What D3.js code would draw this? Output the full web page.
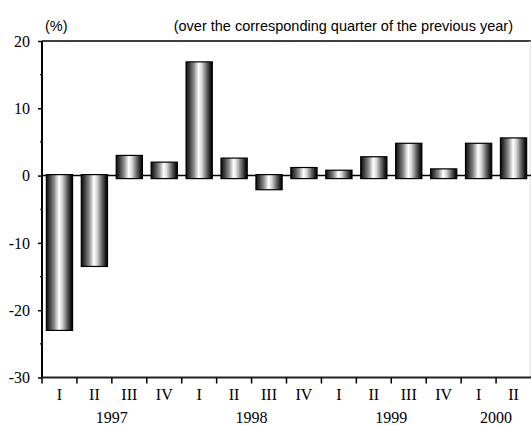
<!DOCTYPE html>
<html>
<head>
<meta charset="utf-8">
<script src="https://cdn.jsdelivr.net/npm/d3@7"></script>
<style>
  body { margin: 0; background: #fff; overflow: hidden; }
  svg { display: block; }
</style>
</head>
<body>
<svg id="chart" width="531" height="425"></svg>
<script>
var quarters = ["I", "II", "III", "IV", "I", "II", "III", "IV", "I", "II", "III", "IV", "I", "II"];
var years = ["1997", "1998", "1999", "2000"];
var quartersPerYear = [4, 4, 4, 2];
var values = [-23.0, -13.5, 3.0, 2.0, 16.9, 2.6, -2.1, 1.2, 0.8, 2.8, 4.8, 1.0, 4.8, 5.6];
var yTicks = [-30, -20, -10, 0, 10, 20];

var svg = d3.select("#chart"),
    plotLeft = 42,
    plotRight = 531,
    plotTop = 41,
    plotBottom = 377.5;

var x = d3.scaleBand()
    .domain(d3.range(values.length))
    .range([plotLeft, plotRight])
    .paddingInner(0.25)
    .paddingOuter(0.125);

var y = d3.scaleLinear()
    .domain([-30, 20])
    .range([plotBottom, plotTop]);

// cylinder shading for the bars
var grad = svg.append("defs").append("linearGradient")
    .attr("id", "cyl")
    .attr("x1", "0%").attr("x2", "100%")
    .attr("y1", "0%").attr("y2", "0%");
[[0, "#0a0a0a"], [0.12, "#3a3a3a"], [0.3, "#8c8c8c"], [0.48, "#ffffff"], [0.6, "#d8d8d8"],
 [0.78, "#6a6a6a"], [0.92, "#1e1e1e"], [1, "#000"]].forEach(function(s) {
  grad.append("stop").attr("offset", s[0]).attr("stop-color", s[1]);
});

// header texts
svg.append("text")
    .attr("x", 45).attr("y", 31)
    .attr("font-family", "Liberation Sans, Arial, sans-serif")
    .attr("font-size", 14.5)
    .text("(%)");

svg.append("text")
    .attr("x", 513).attr("y", 31)
    .attr("text-anchor", "end")
    .attr("font-family", "Liberation Sans, Arial, sans-serif")
    .attr("font-size", 14.5)
    .text("(over the corresponding quarter of the previous year)");

// frame
svg.append("line")
    .attr("x1", plotLeft).attr("x2", plotRight)
    .attr("y1", y(20)).attr("y2", y(20))
    .attr("stroke", "#000").attr("stroke-width", 1.5);

svg.append("line")
    .attr("x1", plotRight - 1).attr("x2", plotRight - 1)
    .attr("y1", y(20)).attr("y2", plotBottom)
    .attr("stroke", "#ddd").attr("stroke-width", 1);

// zero line
svg.append("line")
    .attr("x1", plotLeft).attr("x2", plotRight)
    .attr("y1", y(0)).attr("y2", y(0))
    .attr("stroke", "#000").attr("stroke-width", 1.5);

// bars
svg.append("g")
  .selectAll("rect")
  .data(values)
  .enter().append("rect")
    .attr("x", function(d, i) { return x(i); })
    .attr("y", function(d) { return d >= 0 ? y(d) : y(0) - 1; })
    .attr("width", x.bandwidth())
    .attr("height", function(d) { return d >= 0 ? y(0) + 3 - y(d) : y(d) - y(0) + 1; })
    .attr("fill", "url(#cyl)")
    .attr("stroke", "#000")
    .attr("stroke-width", 1.2);

// y axis (plain hyphen for negatives, like the original)
var yAxis = svg.append("g")
    .attr("transform", "translate(" + plotLeft + ",0)")
    .call(d3.axisLeft(y).tickValues(yTicks).tickSize(4).tickPadding(8)
      .tickFormat(function(d) { return String(d); }));
yAxis.select(".domain").attr("stroke-width", 2).attr("d", "M0," + plotTop + "V" + plotBottom);
yAxis.selectAll(".tick line").attr("stroke-width", 1.5);
yAxis.selectAll(".tick text")
    .attr("font-family", "Liberation Serif, Times New Roman, serif")
    .attr("font-size", 16)
    .attr("fill", "#000");

// minor ticks
svg.append("g")
  .selectAll("line")
  .data(d3.range(-25, 20, 10))
  .enter().append("line")
    .attr("x1", plotLeft - 2).attr("x2", plotLeft)
    .attr("y1", function(d) { return y(d); })
    .attr("y2", function(d) { return y(d); })
    .attr("stroke", "#000").attr("stroke-width", 1.2);

// x axis
var step = x.step();
var gap = x.paddingInner() * step / 2;
svg.append("line")
    .attr("x1", plotLeft).attr("x2", plotRight)
    .attr("y1", plotBottom).attr("y2", plotBottom)
    .attr("stroke", "#222").attr("stroke-width", 2);

svg.append("g")
  .selectAll("line")
  .data(d3.range(values.length))
  .enter().append("line")
    .attr("x1", function(i) { return x(i) - gap; })
    .attr("x2", function(i) { return x(i) - gap; })
    .attr("y1", plotBottom).attr("y2", plotBottom + 6)
    .attr("stroke", "#000").attr("stroke-width", 1.5);

svg.append("g")
  .selectAll("text")
  .data(quarters)
  .enter().append("text")
    .attr("x", function(d, i) { return x(i) + x.bandwidth() / 2; })
    .attr("y", 400)
    .attr("text-anchor", "middle")
    .attr("font-family", "Liberation Serif, Times New Roman, serif")
    .attr("font-size", 16)
    .text(function(d) { return d; });

var start = 0;
var yearPos = quartersPerYear.map(function(n) {
  var a = x(start) - gap;
  start += n;
  return a + n * step / 2;
});

svg.append("g")
  .selectAll("text")
  .data(years)
  .enter().append("text")
    .attr("x", function(d, i) { return yearPos[i]; })
    .attr("y", 423)
    .attr("text-anchor", "middle")
    .attr("font-family", "Liberation Serif, Times New Roman, serif")
    .attr("font-size", 16)
    .text(function(d) { return d; });
</script>
</body>
</html>
